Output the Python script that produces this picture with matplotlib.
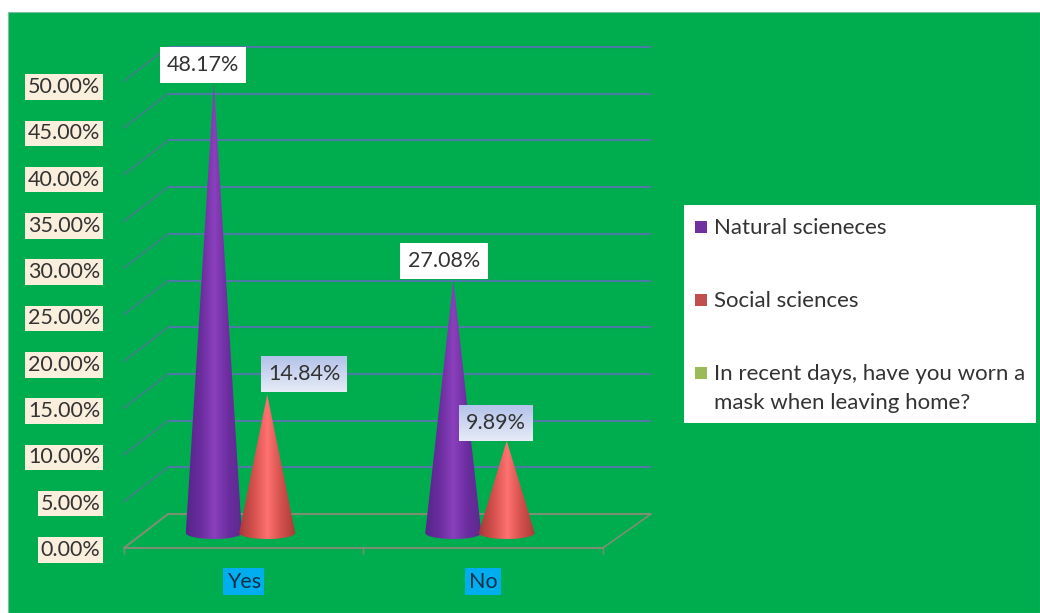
import numpy as np
from matplotlib import pyplot as plt
from matplotlib.colors import LinearSegmentedColormap
from matplotlib.patches import PathPatch, Rectangle
from matplotlib.path import Path

categories = ["Yes", "No"]
natural = [48.17, 27.08]
social = [14.84, 9.89]
series_names = ["Natural scieneces", "Social sciences",
                "In recent days, have you worn a\nmask when leaving home?"]
series_colors = ["#7030A0", "#C0504D", "#9BBB59"]
y_ticks = [0, 5, 10, 15, 20, 25, 30, 35, 40, 45, 50]
y_labels = ["%.2f%%" % v for v in y_ticks]

W, H = 1040, 613
GREEN = "#00AD4E"
GRID = "#4C7BA6"
SIDE = "#35897F"
FLOOR = "#7C8F72"
TEXT = "#333333"
FONT_SIZE = 15.5

plt.rcParams['font.family'] = ['Lato', 'DejaVu Sans']

purple_map = LinearSegmentedColormap.from_list(
    "purple", ["#55258A", "#6A2C9E", "#8A40BC", "#6B2D9F", "#5A2A8C"])
red_map = LinearSegmentedColormap.from_list(
    "red", ["#A63A38", "#D4504D", "#FF7272", "#D2504C", "#A63C38"])


def px_axes(x0, x1, y_bottom, y_top):
    # axes placed by pixel edges, y counted from the top of the figure
    ax = fig.add_axes([x0 / W, 1 - y_bottom / H, (x1 - x0) / W, (y_bottom - y_top) / H])
    ax.patch.set_visible(False)
    return ax


def cone(ax, x, value, cmap):
    half = 0.117
    t = np.linspace(np.pi, 2 * np.pi, 40)
    rim = np.column_stack([x + half * np.cos(t), 0.64 * np.sin(t)])
    verts = np.vstack([[[x, value]], rim, [[x, value]]])
    outline = PathPatch(Path(verts), facecolor="none", edgecolor="none", zorder=3)
    ax.add_patch(outline)
    im = ax.imshow(np.linspace(0, 1, 128)[None, :], cmap=cmap, aspect="auto",
                   extent=[x - half, x + half, -1, value], zorder=3,
                   interpolation="bilinear")
    # the rim dips below y=0, so only the cone outline may clip it
    im.set_clip_box(fig.bbox)
    im.set_clip_path(outline)


def value_box(ax, x, value, text, dx, dy, w, top, bottom):
    # label box placed relative to the cone tip, sizes in pixels
    ux, uy = 1 / 239.5, 1 / 9.34
    cx, cy = x + dx * ux, value + dy * uy
    hw, hh = w / 2 * ux, 18 * uy
    cmap = LinearSegmentedColormap.from_list("box", [bottom, top])
    ax.imshow(np.linspace(0, 1, 32)[:, None], cmap=cmap, aspect="auto", origin="lower",
              extent=[cx - hw, cx + hw, cy - hh, cy + hh], zorder=5, clip_on=False)
    ax.text(cx, cy, text, ha="center", va="center", fontsize=FONT_SIZE, color=TEXT, zorder=6)


fig = plt.figure(figsize=(W / 100, H / 100), dpi=100, facecolor="white")
fig.add_artist(Rectangle((8 / W, 0), 1 - 8 / W, 1 - 12 / H, transform=fig.transFigure,
                         facecolor=GREEN, edgecolor="#7FBFA8", linewidth=0.8, zorder=-1))

# plane through the cone bases: 9.34 px per percent, 239.5 px per category
ax = px_axes(124, 603, 533, 66)
ax.axis("off")

# back wall lines and the slanted side wall lines
back, front = 2.03, -1.6
dx_left, dx_right = 44 / 239.5, 48 / 239.5
for v in y_ticks:
    col = FLOOR if v == 0 else GRID
    ax.plot([-0.5 + dx_left, 1.5 + dx_right], [v + back, v + back], color=col, lw=1.5,
            clip_on=False, zorder=1, solid_capstyle="butt")
    ax.plot([-0.5, -0.5 + dx_left], [v + front, v + back], color=SIDE if v else FLOOR, lw=1.5,
            clip_on=False, zorder=1)
ax.plot([1.5, 1.5 + dx_right], [front, back], color=FLOOR, lw=1.2, clip_on=False, zorder=1)

x_pos = np.arange(len(categories))
for i in x_pos:
    cone(ax, i - 0.125, natural[i], purple_map)
    cone(ax, i + 0.098, social[i], red_map)

value_box(ax, 0 - 0.125, natural[0], "%.2f%%" % natural[0], -11, 18, 86, "#FFFFFF", "#FFFFFF")
value_box(ax, 1 - 0.125, natural[1], "%.2f%%" % natural[1], -9, 19, 88, "#FFFFFF", "#FFFFFF")
value_box(ax, 0 + 0.098, social[0], "%.2f%%" % social[0], 37, 20, 86, "#B4C3EA", "#E6EBF6")
value_box(ax, 1 + 0.098, social[1], "%.2f%%" % social[1], -11, 18, 74, "#B4C3EA", "#E6EBF6")

ax.set_xlim(-0.5, 1.5)
ax.set_ylim(0, 50)

# front edge of the chart carries the tick labels
ax2 = px_axes(124, 603, 548, 85)
ax2.set_xlim(-0.5, 1.5)
ax2.set_ylim(0, 50)
for name in ["top", "right", "left"]:
    ax2.spines[name].set_visible(False)
ax2.spines["bottom"].set_color(FLOOR)
ax2.spines["bottom"].set_linewidth(1.5)
ax2.set_yticks(y_ticks)
ax2.set_yticklabels(y_labels, fontsize=FONT_SIZE, color=TEXT,
                    bbox=dict(facecolor="#FAEEDC", edgecolor="none", pad=2))
ax2.tick_params(axis="y", length=0, pad=17)
ax2.set_xticks(x_pos)
ax2.set_xticklabels(categories, fontsize=FONT_SIZE, color="#10304A",
                    bbox=dict(facecolor="#00AEEF", edgecolor="none", pad=2.5))
ax2.tick_params(axis="x", length=0, pad=17)
ax2.set_xticks([-0.5, 0.5, 1.5], minor=True)
ax2.tick_params(axis="x", which="minor", length=4, color=FLOOR, width=1)

# legend panel
fig.add_artist(Rectangle((684 / W, 1 - 423 / H), 352 / W, 218 / H, transform=fig.transFigure,
                         facecolor="white", edgecolor="none", zorder=2))
for name, col, y in zip(series_names, series_colors, [227, 300, 373]):
    fig.add_artist(Rectangle((695 / W, 1 - (y + 6) / H), 12 / W, 12 / H,
                             transform=fig.transFigure, facecolor=col, edgecolor="none", zorder=3))
    fig.text(714 / W, 1 - (y - 9) / H, name, fontsize=16, color=TEXT, va="top",
             linespacing=1.55, zorder=3)

fig.savefig("out.png", dpi=100)
